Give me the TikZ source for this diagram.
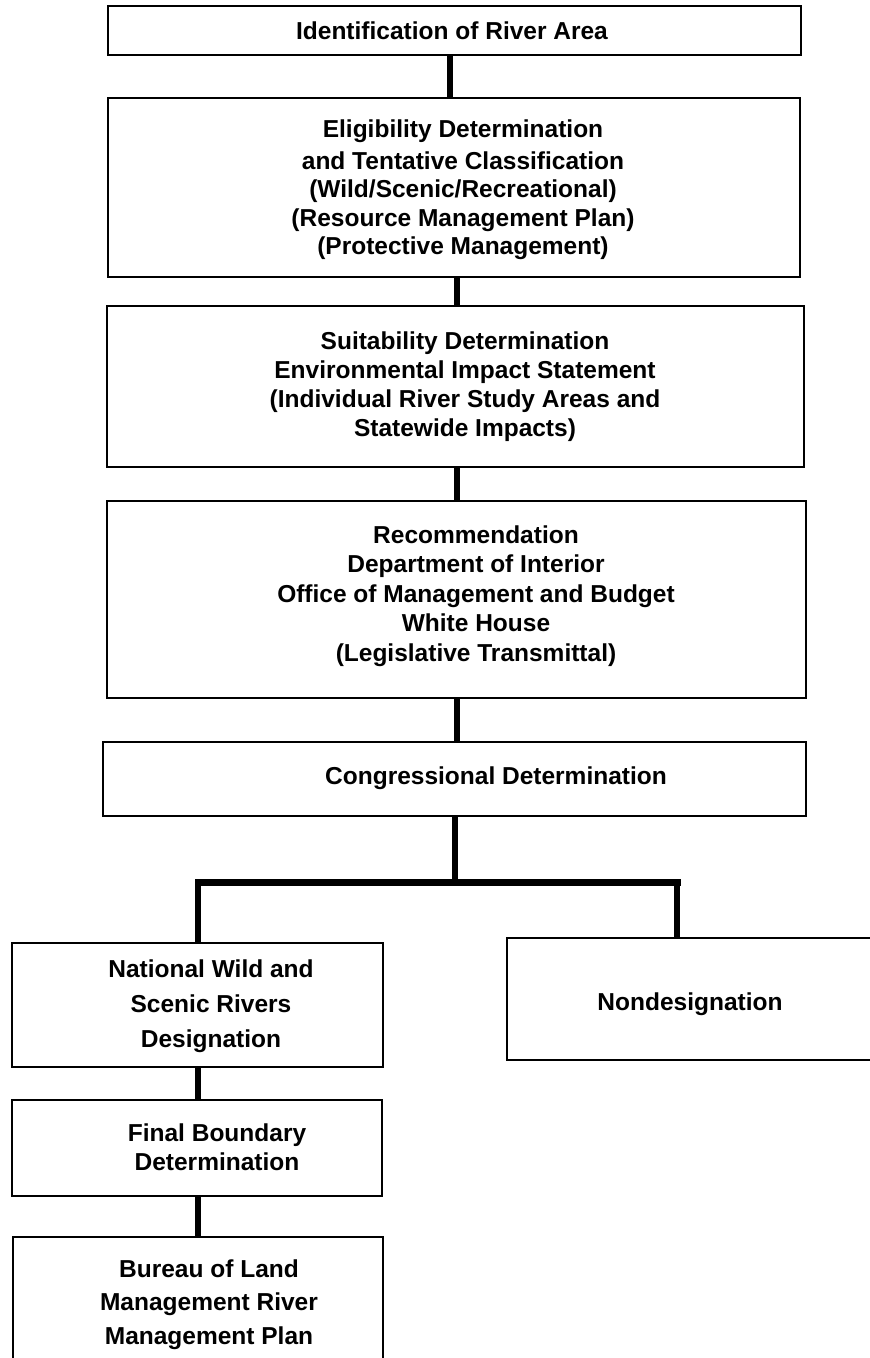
\documentclass[tikz,border=0pt]{standalone}
\usepackage{fontspec}
\setmainfont{Liberation Sans}
\begin{document}
\begin{tikzpicture}[x=1pt,y=-1pt,
  box/.style={draw, line width=2.2pt, inner sep=0pt, outer sep=0pt, anchor=north west},
  txt/.style={font=\fontsize{24.5}{29}\selectfont\bfseries, align=center, inner sep=0pt},
  conn/.style={line width=5.5pt},
  barline/.style={line width=7pt, line cap=rect}]
\useasboundingbox (0,0) rectangle (870,1358);
\clip (0,0) rectangle (870,1358);
\fill[white] (0,0) rectangle (870,1358);

% boxes
\node[box, minimum width=693pt, minimum height=49pt]  (b1)  at (108,6) {};
\node[box, minimum width=692pt, minimum height=179pt] (b2)  at (108,98) {};
\node[box, minimum width=697pt, minimum height=161pt] (b3)  at (107,306) {};
\node[box, minimum width=699pt, minimum height=197pt] (b4)  at (107,501) {};
\node[box, minimum width=703pt, minimum height=74pt]  (b5)  at (103,742) {};
\node[box, minimum width=371pt, minimum height=124pt] (nat) at (12,943) {};
\node[box, minimum width=371pt, minimum height=122pt] (non) at (507,938) {};
\node[box, minimum width=370pt, minimum height=96pt]  (fin) at (12,1100) {};
\node[box, minimum width=370pt, minimum height=150pt] (bur) at (13,1237) {};

% texts
\node[txt] (t1) at (452,31) {Identification of River Area};
\node[txt, font=\fontsize{24.5}{28.5}\selectfont\bfseries] (t2) at (463,189.5)
  {Eligibility Determination\\[3.5pt] and Tentative Classification\\ (Wild/Scenic/Recreational)\\ (Resource Management Plan)\\ (Protective Management)};
\node[txt] (t3) at (465,386.5)
  {Suitability Determination\\ Environmental Impact Statement\\ (Individual River Study Areas and\\ Statewide Impacts)};
\node[txt, font=\fontsize{24.5}{29.5}\selectfont\bfseries] (t4) at (476,596)
  {Recommendation\\ Department of Interior\\ Office of Management and Budget\\ White House\\ (Legislative Transmittal)};
\node[txt] (t5) at (496,778) {Congressional Determination};
\node[txt, font=\fontsize{24.5}{35}\selectfont\bfseries] (t6) at (211,1006)
  {National Wild and\\ Scenic Rivers\\ Designation};
\node[txt] (t7) at (690,1004) {Nondesignation};
\node[txt] (t8) at (217,1147.5) {Final Boundary\\ Determination};
\node[txt, font=\fontsize{24.5}{33.5}\selectfont\bfseries] (t9) at (209,1304.5)
  {Bureau of Land\\ Management River\\ Management Plan};

% connectors
\coordinate (x450) at (450,0);
\coordinate (x457) at (457,0);
\coordinate (x455) at (455,0);
\coordinate (x198) at (198,0);
\coordinate (x677) at (677,0);
\coordinate (j) at (455,882);
\draw[conn] (b1.south -| x450) -- (b2.north -| x450);
\draw[conn] (b2.south -| x457) -- (b3.north -| x457);
\draw[conn] (b3.south -| x457) -- (b4.north -| x457);
\draw[conn] (b4.south -| x457) -- (b5.north -| x457);
\draw[conn] (b5.south -| x455) -- (j);
\draw[barline] (x198 |- j) -- (x677 |- j);
\draw[conn] (x198 |- j) -- (nat.north -| x198);
\draw[conn] (x677 |- j) -- (non.north -| x677);
\draw[conn] (nat.south -| x198) -- (fin.north -| x198);
\draw[conn] (fin.south -| x198) -- (bur.north -| x198);
\end{tikzpicture}
\end{document}
